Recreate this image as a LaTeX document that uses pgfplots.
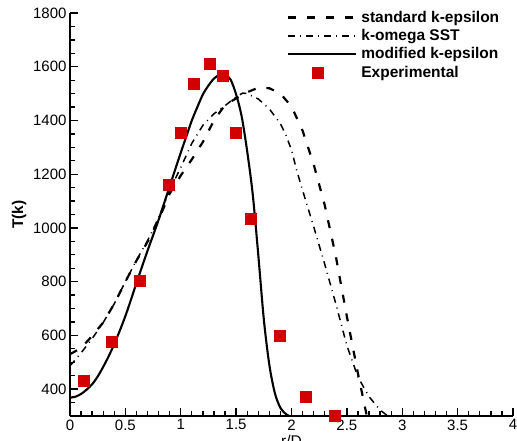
\documentclass[border=0pt]{standalone}
\usepackage{fontspec}
\setmainfont{Liberation Sans}
\usepackage{pgfplots}
\pgfplotsset{compat=1.18}
\definecolor{expred}{RGB}{210,0,0}
\pgfplotsset{
  mylinelegend/.style={legend image code/.code={\draw[##1] (0pt,0pt) -- (68pt,0pt);}},
  mymarklegend/.style={legend image code/.code={\draw[##1] plot coordinates {(29pt,0pt)};}},
}
\begin{document}
\begin{tikzpicture}
\begin{axis}[
  at={(0pt,0pt)}, anchor=south west,
  scale only axis, width=443pt, height=403pt,
  xmin=0, xmax=4, ymin=300, ymax=1800,
  axis x line=bottom, axis y line=left,
  axis line style={-, line width=1.8pt},
  tick align=inside,
  major tick length=8pt, minor tick length=4.5pt,
  every tick/.style={black, line width=1.3pt},
  xtick={0,0.5,...,4},
  xticklabels={0,0.5,1,1.5,2,2.5,3,3.5,4},
  minor xtick={0.1,0.2,0.3,0.4,0.6,0.7,0.8,0.9,1.1,1.2,1.3,1.4,1.6,1.7,1.8,1.9,2.1,2.2,2.3,2.4,2.6,2.7,2.8,2.9,3.1,3.2,3.3,3.4,3.6,3.7,3.8,3.9},
  ytick={400,600,...,1800},
  minor ytick={300,350,450,500,550,650,700,750,850,900,950,1050,1100,1150,1250,1300,1350,1450,1500,1550,1650,1700,1750},
  /pgf/number format/assume math mode=true,
  yticklabel style={/pgf/number format/1000 sep={}},
  tick label style={font=\fontsize{15}{18}\selectfont},
  xlabel={r/D},
  ylabel={\textbf{T(k)}},
  label style={font=\fontsize{15.5}{18}\selectfont},
  xlabel style={yshift=2pt},
  ylabel style={yshift=0pt},
  clip=false,
  legend style={at={(214pt,409pt)}, anchor=north west, draw=none, fill=none,
    font=\fontsize{15.5}{18}\selectfont\bfseries, row sep=1.5pt,
    /tikz/every odd column/.append style={column sep=2pt}},
  legend cell align=left,
]
\addplot[black, line width=2.2pt, dash pattern=on 8pt off 11pt, mylinelegend] coordinates {
(0,530) (0.1,553) (0.2,598) (0.3,648) (0.4,718) (0.5,800) (0.6,878) (0.7,948) (0.8,1030) (0.9,1128) (1.0,1195) (1.1,1255) (1.2,1320) (1.3,1400) (1.4,1458) (1.5,1482) (1.6,1505) (1.7,1522) (1.8,1520) (1.9,1500) (2.0,1452) (2.1,1362) (2.2,1237) (2.3,1085) (2.4,895) (2.5,670) (2.6,458) (2.65,360) (2.68,300)
};
\addlegendentry{standard k-epsilon}
\addplot[black, line width=1.5pt, dash pattern=on 7pt off 5pt on 1pt off 5pt, mylinelegend] coordinates {
(0,487) (0.05,510) (0.1,535) (0.2,588) (0.3,648) (0.4,718) (0.5,800) (0.6,880) (0.7,952) (0.8,1038) (0.9,1140) (1.0,1225) (1.1,1315) (1.2,1382) (1.3,1425) (1.4,1455) (1.5,1488) (1.56,1502) (1.6,1500) (1.7,1480) (1.8,1443) (1.9,1388) (1.95,1345) (2.0,1290) (2.05,1210) (2.1,1140) (2.2,1005) (2.3,865) (2.4,718) (2.5,562) (2.6,445) (2.7,372) (2.8,322) (2.87,300)
};
\addlegendentry{k-omega SST}
\addplot[black, line width=2.1pt, smooth, mylinelegend] coordinates {
(0,368) (0.05,372) (0.1,382) (0.15,398) (0.2,418) (0.25,447) (0.3,483) (0.35,523) (0.4,568) (0.45,618) (0.5,672) (0.55,732) (0.6,795) (0.7,915) (0.8,1030) (0.9,1155) (1.0,1280) (1.05,1340) (1.1,1400) (1.15,1450) (1.2,1497) (1.25,1530) (1.3,1556) (1.35,1570) (1.4,1572) (1.45,1552) (1.5,1497) (1.55,1415) (1.6,1285) (1.65,1125) (1.7,900) (1.75,660) (1.8,490) (1.85,385) (1.9,330) (1.95,307) (1.98,300)
};
\addlegendentry{modified k-epsilon}
\addplot[only marks, mark=square*, mark size=5.5pt, color=expred, mymarklegend] coordinates {
(0.12,430) (0.38,575) (0.63,805) (0.89,1160) (1.0,1355) (1.12,1535) (1.26,1610) (1.38,1565) (1.50,1355) (1.63,1035) (1.89,600) (2.13,370) (2.39,300)
};
\addlegendentry{Experimental}
\end{axis}
\pgfresetboundingbox
\path[use as bounding box] (-70pt,-25pt) rectangle (447pt,416pt);
\end{tikzpicture}
\end{document}
